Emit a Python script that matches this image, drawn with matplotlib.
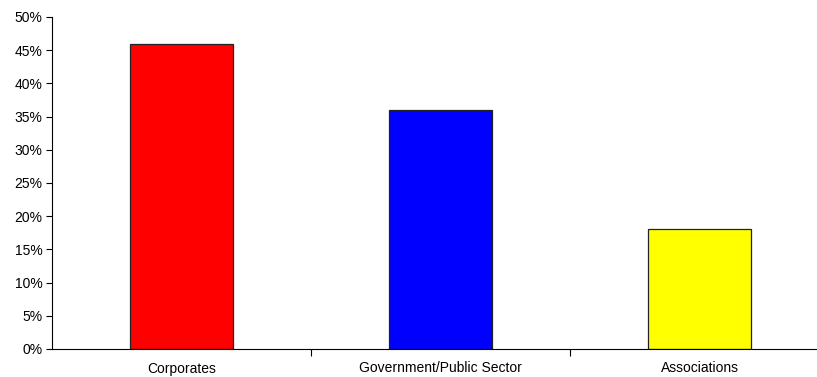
import matplotlib
matplotlib.use("Agg")
import matplotlib.pyplot as plt
from matplotlib.ticker import FuncFormatter, FixedLocator

categories = ["Corporates", "Government/Public Sector", "Associations"]
shares = [46, 36, 18]
colors = ["#ff0000", "#0000ff", "#ffff00"]
y_ticks = list(range(0, 51, 5))

plt.rcParams["font.family"] = ["Liberation Sans", "DejaVu Sans"]

W, H = 817, 377
fig = plt.figure(figsize=(W / 100, H / 100), dpi=100)
ax = fig.add_axes([52 / W, (H - 349) / H, (829 - 52) / W, (349 - 17) / H])

x = range(len(categories))
ax.bar(x, shares, width=0.4, color=colors, edgecolor="#222222", linewidth=0.9)

ax.set_xlim(-0.5, len(categories) - 0.5)
ax.set_ylim(0, 50)
ax.set_yticks(y_ticks)
ax.yaxis.set_major_formatter(FuncFormatter(lambda v, _: f"{v:.0f}%"))

ax.set_xticks(list(x))
ax.set_xticklabels(categories)
ax.xaxis.set_minor_locator(FixedLocator([i + 0.5 for i in range(len(categories) - 1)]))
ax.tick_params(axis="x", which="major", length=0, pad=9, labelsize=10)
ax.tick_params(axis="x", which="minor", length=5, width=0.8, direction="out")
ax.tick_params(axis="y", length=4, width=0.8, direction="out", labelsize=10, pad=3)

for side in ("top", "right"):
    ax.spines[side].set_visible(False)
for side in ("left", "bottom"):
    ax.spines[side].set_linewidth(0.8)

fig.savefig("out.png", dpi=100)
